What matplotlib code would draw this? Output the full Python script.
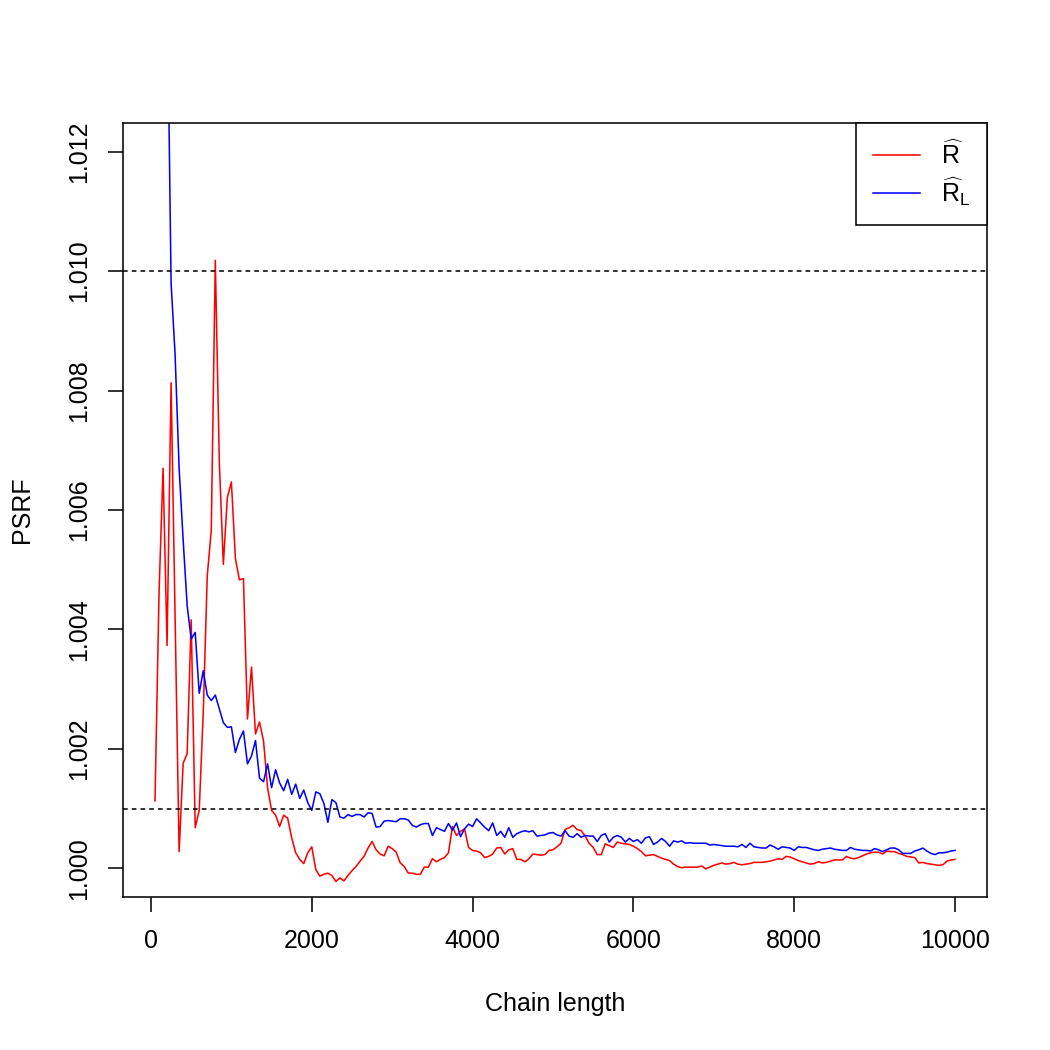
import numpy as np
import matplotlib
matplotlib.use("Agg")
import matplotlib.pyplot as plt
from matplotlib.lines import Line2D

plt.rcParams['font.family'] = ['Liberation Sans', 'DejaVu Sans']
plt.rcParams['mathtext.fontset'] = 'custom'
plt.rcParams['mathtext.rm'] = 'Liberation Sans'
plt.rcParams['mathtext.it'] = 'Liberation Sans'

# R-hat (red), chain lengths 50, 100, ..., 10000
rhat = [
    1.00113, 1.0046, 1.0067, 1.00373, 1.00813, 1.0042, 1.00028, 1.00176, 1.00192, 1.00416,
    1.00068, 1.00097, 1.0026, 1.0049, 1.00566, 1.01018, 1.0068, 1.00509, 1.00621, 1.00647,
    1.00519, 1.00483, 1.00485, 1.0025, 1.00337, 1.00225, 1.00245, 1.00213, 1.00135, 1.00097,
    1.00089, 1.0007, 1.00089, 1.00084, 1.00051, 1.00026, 1.00015, 1.00008, 1.00026, 1.00036,
    0.99998, 0.99987, 0.9999, 0.99992, 0.99988, 0.99978, 0.99984, 0.99979, 0.99988, 0.99996,
    1.00003, 1.00012, 1.0002, 1.00034, 1.00045, 1.00031, 1.00024, 1.00021, 1.00037, 1.00033,
    1.00027, 1.00009, 1.00003, 0.99992, 0.99992, 0.9999, 0.9999, 1.00002, 1.00002, 1.00016,
    1.00011, 1.00015, 1.00018, 1.00026, 1.0007, 1.00055, 1.00062, 1.00066, 1.00035, 1.0003,
    1.00029, 1.00026, 1.00018, 1.0002, 1.00024, 1.00034, 1.00035, 1.00024, 1.00031, 1.00033,
    1.00015, 1.00015, 1.00011, 1.00016, 1.00024, 1.00023, 1.00022, 1.00023, 1.0003, 1.00031,
    1.00036, 1.00042, 1.00065, 1.00068, 1.00072, 1.00065, 1.00063, 1.00054, 1.00042, 1.00035,
    1.00023, 1.00023, 1.00041, 1.00038, 1.00035, 1.00044, 1.00042, 1.00041, 1.0004, 1.00037,
    1.00033, 1.00028, 1.00021, 1.00022, 1.00023, 1.0002, 1.00017, 1.00015, 1.00013, 1.00007,
    1.00003, 1.00001, 1.00002, 1.00002, 1.00002, 1.00002, 1.00004, 0.99999, 1.00002, 1.00005,
    1.00007, 1.00009, 1.00007, 1.00008, 1.0001, 1.00007, 1.00006, 1.00007, 1.00008, 1.0001,
    1.0001, 1.0001, 1.00011, 1.00012, 1.00014, 1.00016, 1.00015, 1.0002, 1.00019, 1.00016,
    1.00013, 1.00011, 1.00009, 1.00007, 1.00008, 1.00011, 1.00009, 1.0001, 1.00012, 1.00014,
    1.00014, 1.00014, 1.0002, 1.00017, 1.00016, 1.00018, 1.00021, 1.00024, 1.00026, 1.00027,
    1.00027, 1.00024, 1.00029, 1.00028, 1.00028, 1.00025, 1.00023, 1.0002, 1.00019, 1.00018,
    1.00009, 1.0001, 1.00008, 1.00007, 1.00006, 1.00005, 1.00006, 1.00012, 1.00014, 1.00015,
]

# R-hat_L (blue)
rhat_l = [
    1.06, 1.04, 1.025, 1.015, 1.0098, 1.0086, 1.0067, 1.0055, 1.0044, 1.00384,
    1.00395, 1.00293, 1.00331, 1.0029, 1.00281, 1.0029, 1.00267, 1.00244, 1.00236, 1.00237,
    1.00194, 1.00216, 1.0023, 1.00175, 1.00188, 1.00214, 1.00151, 1.00145, 1.00175, 1.00135,
    1.00165, 1.00143, 1.0013, 1.00149, 1.00124, 1.00141, 1.00117, 1.00131, 1.0011, 1.00097,
    1.00128, 1.00125, 1.00109, 1.00077, 1.00115, 1.0011, 1.00086, 1.00084, 1.0009, 1.00087,
    1.0009, 1.0009, 1.00086, 1.00093, 1.00092, 1.00069, 1.0007, 1.00079, 1.0008, 1.00079,
    1.00078, 1.00083, 1.00083, 1.00081, 1.00072, 1.00069, 1.00073, 1.00075, 1.00075, 1.00055,
    1.00068, 1.00065, 1.00062, 1.00075, 1.00064, 1.00076, 1.00053, 1.00066, 1.00074, 1.0007,
    1.00083, 1.00076, 1.00069, 1.00063, 1.00076, 1.00055, 1.00062, 1.00052, 1.00068, 1.00052,
    1.00058, 1.00061, 1.00063, 1.00061, 1.00063, 1.00054, 1.00055, 1.00056, 1.00059, 1.0006,
    1.00056, 1.00054, 1.00063, 1.00054, 1.00052, 1.00058, 1.00052, 1.00055, 1.00054, 1.00054,
    1.00045, 1.00055, 1.00058, 1.00044, 1.00052, 1.00055, 1.00052, 1.00044, 1.0005, 1.00045,
    1.00048, 1.00042, 1.00051, 1.00053, 1.0004, 1.00044, 1.0005, 1.00045, 1.00037, 1.00046,
    1.00044, 1.00046, 1.00042, 1.00043, 1.00042, 1.00042, 1.00042, 1.00042, 1.00039, 1.0004,
    1.00039, 1.00038, 1.00037, 1.00037, 1.00037, 1.00036, 1.0004, 1.00035, 1.00042, 1.00036,
    1.00035, 1.00034, 1.00034, 1.00039, 1.00036, 1.00032, 1.00036, 1.00035, 1.00034, 1.0003,
    1.00036, 1.00035, 1.00035, 1.00033, 1.00031, 1.0003, 1.00032, 1.00033, 1.00034, 1.00032,
    1.00031, 1.0003, 1.0003, 1.00035, 1.00032, 1.00031, 1.0003, 1.0003, 1.00029, 1.00033,
    1.00031, 1.00028, 1.00031, 1.00034, 1.00034, 1.00031, 1.00025, 1.00025, 1.00025, 1.00029,
    1.00031, 1.00034, 1.00029, 1.00025, 1.00023, 1.00026, 1.00026, 1.00027, 1.00029, 1.0003,
]

chain_length = list(range(50, 10001, 50))
thresholds = [1.01, 1.001]
x_ticks = [0, 2000, 4000, 6000, 8000, 10000]
y_ticks = [1.000, 1.002, 1.004, 1.006, 1.008, 1.010, 1.012]
y_tick_labels = ["1.000", "1.002", "1.004", "1.006", "1.008", "1.010", "1.012"]
legend_labels = [r'$\widehat{\mathrm{R}}$', r'$\widehat{\mathrm{R}}_{\mathrm{L}}$']

fig = plt.figure(figsize=(7, 7), dpi=150)
ax = fig.add_axes([123/1050, 1 - 897/1050, (987 - 123)/1050, (897 - 123)/1050])

ax.plot(chain_length, rhat, color='red', lw=0.75)
ax.plot(chain_length, rhat_l, color='blue', lw=0.75)
for t in thresholds:
    ax.axhline(t, color='black', lw=0.75, linestyle=(0, (3.0, 2.6)))

ax.set_xlim(-348, 10398)
ax.set_ylim(0.99952, 1.01248)
ax.set_xticks(x_ticks)
ax.set_xticklabels([str(v) for v in x_ticks])
ax.set_yticks(y_ticks)
ax.set_yticklabels(y_tick_labels, rotation=90, va='center')

for s in ax.spines.values():
    s.set_linewidth(0.75)
ax.tick_params(direction='out', length=7.2, width=0.75, labelsize=12, pad=8)

ax.set_xlabel("Chain length", fontsize=12, labelpad=19)
ax.set_ylabel("PSRF", fontsize=12, labelpad=16)

handles = [Line2D([], [], color='red', lw=0.75), Line2D([], [], color='blue', lw=0.75)]
leg = ax.legend(handles, legend_labels,
                loc='upper right', borderaxespad=0, fancybox=False, framealpha=1,
                edgecolor='black', fontsize=12, handlelength=1.88, handletextpad=0.84,
                borderpad=0.68, labelspacing=0.25)
leg.get_frame().set_linewidth(0.75)

fig.savefig("out.png", dpi=150)
